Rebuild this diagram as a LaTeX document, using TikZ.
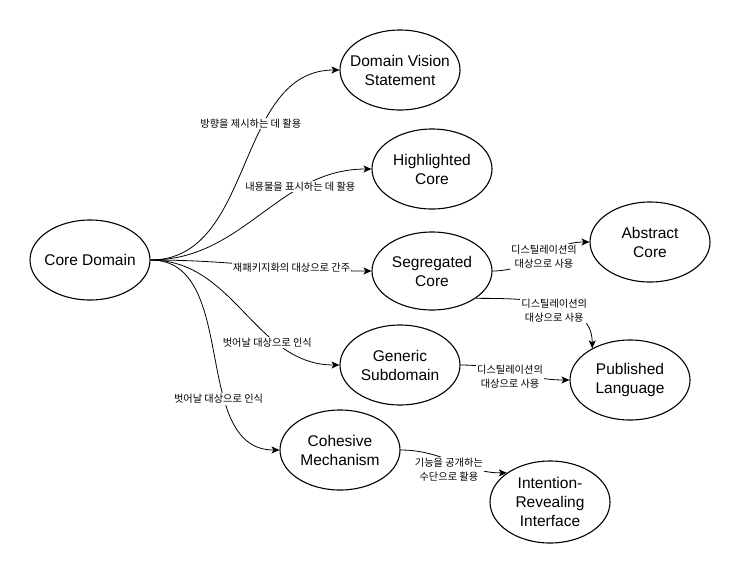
\documentclass[tikz,border=0pt]{standalone}
\usepackage{fontspec}
\setmainfont{Liberation Sans}
\newfontfamily\krfont{Noto Sans CJK KR}
\usetikzlibrary{shapes.geometric,arrows.meta}
\tikzset{
  el/.style={draw, ellipse, line width=1.1pt, minimum width=120pt, minimum height=80pt, inner sep=0pt},
  eltext/.style={font=\fontsize{15.5}{19}\selectfont, align=center, inner sep=0pt},
  lbl/.style={font=\krfont\fontsize{10.2}{14}\selectfont, fill=white, inner sep=1pt, align=center},
  arr/.style={-{Stealth[length=8pt,width=7pt,inset=2pt]}, line width=0.8pt}
}
\begin{document}
\begin{tikzpicture}[x=1pt,y=-1pt]
\useasboundingbox (0,0) rectangle (741,573);
\node[el, label={[eltext]center:Core Domain}] (core) at (90,260) {};
\node[el, label={[eltext]center:Domain Vision\\Statement}] (dvs) at (400,70) {};
\node[el, label={[eltext]center:Highlighted\\Core}] (hc) at (432,169) {};
\node[el, minimum height=78pt, label={[eltext]center:Segregated\\Core}] (seg) at (432,271) {};
\node[el, label={[eltext]center:Abstract\\Core}] (ac) at (650,242) {};
\node[el, label={[eltext]center:Published\\Language}] (pl) at (630,380) {};
\node[el, label={[eltext]center:Generic\\Subdomain}] (gen) at (400,365) {};
\node[el, label={[eltext]center:Cohesive\\Mechanism}] (coh) at (340,450) {};
\node[el, minimum height=82pt, label={[eltext]center:Intention-\\Revealing\\Interface}] (iri) at (550,502) {};

\draw[arr] (core.east) to[out=0,in=180] node[lbl,pos=0.65,xshift=-14pt]{방향을 제시하는 데 활용} (dvs.west);
\draw[arr] (core.east) to[out=0,in=180] node[lbl,pos=0.72,xshift=-4pt]{내용물을 표시하는 데 활용} (hc.west);
\draw[arr] (core.east) to[out=0,in=180] node[lbl,pos=0.66,xshift=-2pt]{재패키지화의 대상으로 간주} (seg.west);
\draw[arr] (core.east) to[out=0,in=180] node[lbl,pos=0.7,xshift=-10pt]{벗어날 대상으로 인식} (gen.west);
\draw[arr] (core.east) to[out=0,in=180] node[lbl,pos=0.66,xshift=-7pt]{벗어날 대상으로 인식} (coh.west);
\draw[arr] (seg.east) to[out=0,in=180] node[lbl,pos=0.5,xshift=3pt]{디스틸레이션의\\대상으로 사용} (ac.west);
\draw[arr] (seg.-32) to[out=0,in=90] node[lbl,pos=0.55,xshift=-5pt,yshift=-4pt]{디스틸레이션의\\대상으로 사용} (pl.140);
\draw[arr] (gen.east) to[out=0,in=180] node[lbl,pos=0.45,yshift=-5pt]{디스틸레이션의\\대상으로 사용} (pl.west);
\draw[arr] (coh.east) to[out=0,in=180] node[lbl,pos=0.45,yshift=-10pt]{기능을 공개하는\\수단으로 활용} (iri.146);
\end{tikzpicture}
\end{document}
